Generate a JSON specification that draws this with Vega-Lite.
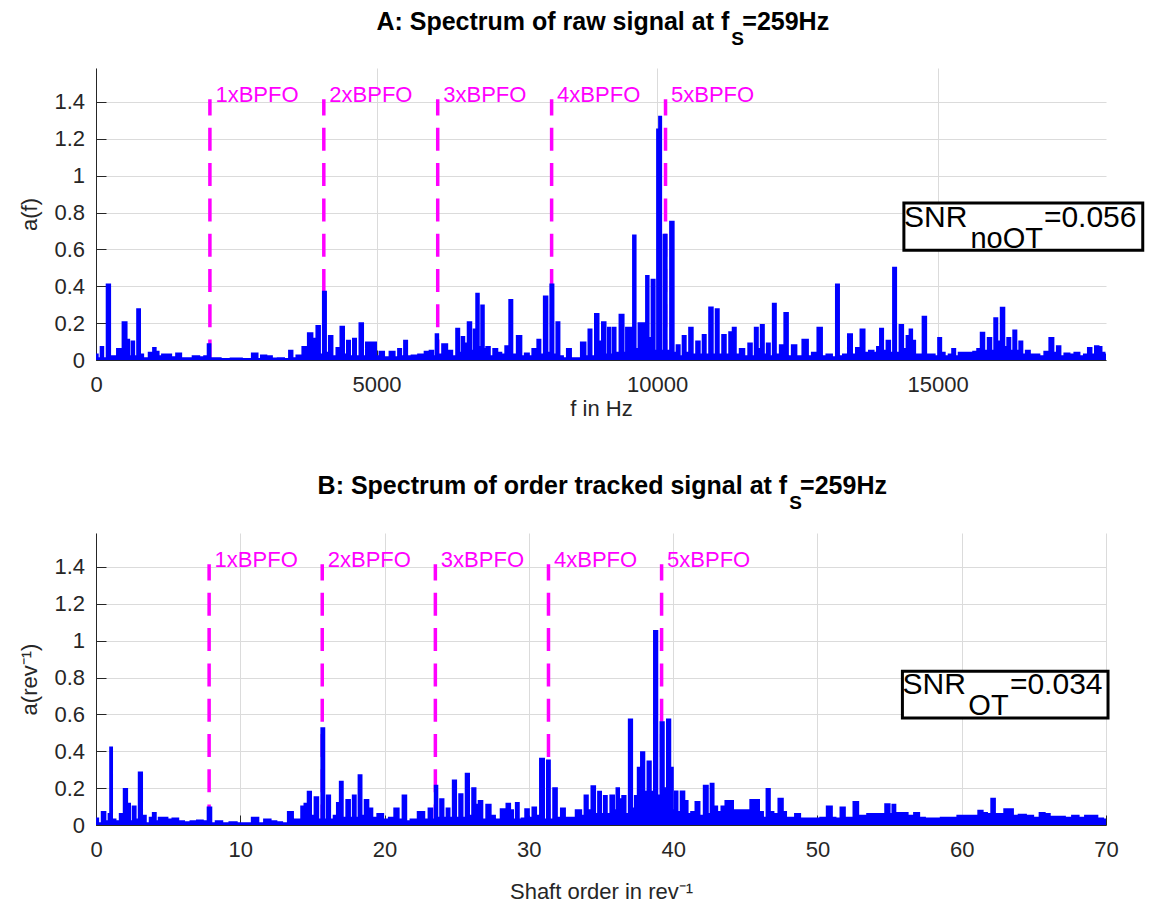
{
"$schema": "https://vega.github.io/schema/vega-lite/v6.json",
"background": "white",
"padding": {"left": 18, "top": 9, "right": 5, "bottom": 5},
"spacing": 173,
"bounds": "flush",
"config": {"view": {"stroke": null}, "font": "Liberation Sans"},
"datasets": {
"specA": [{"x":0,"y":0.03},{"x":60,"y":0.01},{"x":107,"y":0.07},{"x":150,"y":0.01},{"x":232,"y":0.41},{"x":270,"y":0.02},{"x":320,"y":0.02},{"x":430,"y":0.06},{"x":518,"y":0.205},{"x":571,"y":0.11},{"x":610,"y":0.02},{"x":660,"y":0.1},{"x":700,"y":0.02},{"x":768,"y":0.275},{"x":800,"y":0.03},{"x":880,"y":0.01},{"x":1000,"y":0.04},{"x":1036,"y":0.065},{"x":1090,"y":0.045},{"x":1140,"y":0.02},{"x":1215,"y":0.03},{"x":1285,"y":0.03},{"x":1393,"y":0.015},{"x":1464,"y":0.035},{"x":1571,"y":0.01},{"x":1660,"y":0.01},{"x":1786,"y":0.02},{"x":1893,"y":0.015},{"x":1964,"y":0.02},{"x":2018,"y":0.085},{"x":2060,"y":0.01},{"x":2143,"y":0.01},{"x":2300,"y":0.005},{"x":2500,"y":0.008},{"x":2700,"y":0.005},{"x":2857,"y":0.035},{"x":2900,"y":0.005},{"x":2982,"y":0.025},{"x":3089,"y":0.02},{"x":3180,"y":0.008},{"x":3300,"y":0.01},{"x":3400,"y":0.005},{"x":3482,"y":0.05},{"x":3520,"y":0.01},{"x":3625,"y":0.025},{"x":3732,"y":0.07},{"x":3821,"y":0.145},{"x":3893,"y":0.115},{"x":3964,"y":0.185},{"x":4018,"y":0.03},{"x":4071,"y":0.37},{"x":4125,"y":0.04},{"x":4178,"y":0.13},{"x":4250,"y":0.02},{"x":4321,"y":0.065},{"x":4393,"y":0.18},{"x":4446,"y":0.03},{"x":4500,"y":0.105},{"x":4553,"y":0.02},{"x":4607,"y":0.115},{"x":4660,"y":0.02},{"x":4732,"y":0.2},{"x":4786,"y":0.02},{"x":4839,"y":0.095},{"x":4964,"y":0.095},{"x":5018,"y":0.02},{"x":5089,"y":0.045},{"x":5178,"y":0.015},{"x":5286,"y":0.045},{"x":5357,"y":0.015},{"x":5411,"y":0.06},{"x":5464,"y":0.02},{"x":5518,"y":0.105},{"x":5571,"y":0.02},{"x":5679,"y":0.025},{"x":5804,"y":0.03},{"x":5911,"y":0.045},{"x":5982,"y":0.05},{"x":6036,"y":0.02},{"x":6071,"y":0.14},{"x":6125,"y":0.03},{"x":6214,"y":0.085},{"x":6304,"y":0.05},{"x":6393,"y":0.02},{"x":6446,"y":0.17},{"x":6500,"y":0.04},{"x":6536,"y":0.125},{"x":6589,"y":0.09},{"x":6661,"y":0.205},{"x":6714,"y":0.05},{"x":6750,"y":0.165},{"x":6804,"y":0.36},{"x":6839,"y":0.07},{"x":6893,"y":0.295},{"x":6929,"y":0.06},{"x":6982,"y":0.07},{"x":7054,"y":0.02},{"x":7107,"y":0.06},{"x":7196,"y":0.04},{"x":7250,"y":0.03},{"x":7339,"y":0.075},{"x":7393,"y":0.325},{"x":7446,"y":0.03},{"x":7554,"y":0.13},{"x":7607,"y":0.02},{"x":7679,"y":0.035},{"x":7750,"y":0.02},{"x":7804,"y":0.06},{"x":7839,"y":0.06},{"x":7893,"y":0.11},{"x":7946,"y":0.03},{"x":8018,"y":0.345},{"x":8071,"y":0.04},{"x":8125,"y":0.41},{"x":8179,"y":0.03},{"x":8232,"y":0.205},{"x":8286,"y":0.02},{"x":8357,"y":0.01},{"x":8429,"y":0.06},{"x":8500,"y":0.01},{"x":8589,"y":0.01},{"x":8696,"y":0.095},{"x":8750,"y":0.02},{"x":8804,"y":0.165},{"x":8857,"y":0.02},{"x":8929,"y":0.25},{"x":8982,"y":0.1},{"x":9054,"y":0.205},{"x":9107,"y":0.03},{"x":9143,"y":0.175},{"x":9196,"y":0.03},{"x":9232,"y":0.175},{"x":9286,"y":0.04},{"x":9375,"y":0.245},{"x":9429,"y":0.04},{"x":9464,"y":0.175},{"x":9500,"y":0.06},{"x":9518,"y":0.175},{"x":9554,"y":0.05},{"x":9589,"y":0.675},{"x":9643,"y":0.06},{"x":9696,"y":0.2},{"x":9750,"y":0.2},{"x":9786,"y":0.05},{"x":9821,"y":0.455},{"x":9875,"y":0.12},{"x":9929,"y":0.435},{"x":9982,"y":0.05},{"x":10018,"y":1.25},{"x":10054,"y":1.32},{"x":10089,"y":0.05},{"x":10143,"y":0.68},{"x":10196,"y":0.05},{"x":10268,"y":0.75},{"x":10321,"y":0.04},{"x":10375,"y":0.08},{"x":10429,"y":0.02},{"x":10482,"y":0.13},{"x":10536,"y":0.04},{"x":10607,"y":0.175},{"x":10661,"y":0.03},{"x":10732,"y":0.1},{"x":10786,"y":0.03},{"x":10839,"y":0.135},{"x":10893,"y":0.03},{"x":10964,"y":0.285},{"x":11018,"y":0.03},{"x":11071,"y":0.275},{"x":11125,"y":0.03},{"x":11196,"y":0.135},{"x":11250,"y":0.03},{"x":11321,"y":0.15},{"x":11375,"y":0.175},{"x":11429,"y":0.03},{"x":11518,"y":0.06},{"x":11589,"y":0.02},{"x":11661,"y":0.09},{"x":11714,"y":0.02},{"x":11768,"y":0.175},{"x":11821,"y":0.06},{"x":11875,"y":0.19},{"x":11929,"y":0.03},{"x":11982,"y":0.09},{"x":12036,"y":0.02},{"x":12089,"y":0.305},{"x":12143,"y":0.03},{"x":12232,"y":0.08},{"x":12304,"y":0.255},{"x":12357,"y":0.02},{"x":12446,"y":0.08},{"x":12518,"y":0.02},{"x":12661,"y":0.11},{"x":12714,"y":0.02},{"x":12804,"y":0.04},{"x":12911,"y":0.175},{"x":12964,"y":0.02},{"x":13071,"y":0.03},{"x":13161,"y":0.015},{"x":13214,"y":0.41},{"x":13268,"y":0.02},{"x":13357,"y":0.03},{"x":13446,"y":0.14},{"x":13500,"y":0.03},{"x":13589,"y":0.065},{"x":13661,"y":0.165},{"x":13732,"y":0.04},{"x":13821,"y":0.05},{"x":13893,"y":0.04},{"x":13946,"y":0.07},{"x":14000,"y":0.17},{"x":14054,"y":0.05},{"x":14125,"y":0.105},{"x":14179,"y":0.04},{"x":14232,"y":0.5},{"x":14286,"y":0.04},{"x":14357,"y":0.19},{"x":14411,"y":0.06},{"x":14482,"y":0.13},{"x":14518,"y":0.165},{"x":14571,"y":0.105},{"x":14625,"y":0.03},{"x":14696,"y":0.03},{"x":14768,"y":0.235},{"x":14821,"y":0.03},{"x":14911,"y":0.03},{"x":14982,"y":0.02},{"x":15036,"y":0.12},{"x":15089,"y":0.04},{"x":15161,"y":0.02},{"x":15232,"y":0.03},{"x":15286,"y":0.06},{"x":15339,"y":0.02},{"x":15411,"y":0.04},{"x":15500,"y":0.04},{"x":15589,"y":0.04},{"x":15679,"y":0.045},{"x":15732,"y":0.06},{"x":15804,"y":0.148},{"x":15857,"y":0.05},{"x":15929,"y":0.12},{"x":15982,"y":0.05},{"x":16036,"y":0.227},{"x":16089,"y":0.1},{"x":16161,"y":0.284},{"x":16214,"y":0.07},{"x":16268,"y":0.12},{"x":16321,"y":0.05},{"x":16375,"y":0.16},{"x":16429,"y":0.05},{"x":16482,"y":0.1},{"x":16536,"y":0.03},{"x":16607,"y":0.05},{"x":16679,"y":0.03},{"x":16768,"y":0.03},{"x":16857,"y":0.02},{"x":16946,"y":0.045},{"x":17036,"y":0.12},{"x":17089,"y":0.04},{"x":17161,"y":0.075},{"x":17214,"y":0.02},{"x":17304,"y":0.035},{"x":17393,"y":0.03},{"x":17482,"y":0.04},{"x":17571,"y":0.02},{"x":17643,"y":0.03},{"x":17714,"y":0.065},{"x":17768,"y":0.03},{"x":17839,"y":0.075},{"x":17893,"y":0.07},{"x":17946,"y":0.04},{"x":18000,"y":0.03}],
"specB": [{"x":0,"y":0.035},{"x":0.3,"y":0.01},{"x":0.5,"y":0.07},{"x":0.8,"y":0.02},{"x":0.95,"y":0.06},{"x":1.02,"y":0.42},{"x":1.2,"y":0.03},{"x":1.5,"y":0.02},{"x":1.8,"y":0.06},{"x":2.05,"y":0.195},{"x":2.26,"y":0.115},{"x":2.45,"y":0.02},{"x":2.64,"y":0.1},{"x":2.85,"y":0.03},{"x":3.08,"y":0.285},{"x":3.3,"y":0.05},{"x":3.6,"y":0.01},{"x":3.85,"y":0.04},{"x":4.03,"y":0.065},{"x":4.25,"y":0.02},{"x":4.45,"y":0.04},{"x":4.8,"y":0.04},{"x":5.1,"y":0.03},{"x":5.5,"y":0.035},{"x":5.9,"y":0.02},{"x":6.3,"y":0.015},{"x":6.8,"y":0.02},{"x":7.2,"y":0.025},{"x":7.6,"y":0.02},{"x":7.88,"y":0.095},{"x":8.1,"y":0.01},{"x":8.5,"y":0.02},{"x":9,"y":0.01},{"x":9.5,"y":0.015},{"x":10,"y":0.01},{"x":10.5,"y":0.01},{"x":11.1,"y":0.04},{"x":11.4,"y":0.01},{"x":11.9,"y":0.03},{"x":12.3,"y":0.02},{"x":12.7,"y":0.015},{"x":13.1,"y":0.01},{"x":13.5,"y":0.07},{"x":13.8,"y":0.03},{"x":14.1,"y":0.03},{"x":14.35,"y":0.1},{"x":14.55,"y":0.115},{"x":14.8,"y":0.18},{"x":15,"y":0.05},{"x":15.3,"y":0.15},{"x":15.5,"y":0.03},{"x":15.74,"y":0.525},{"x":15.9,"y":0.03},{"x":16.1,"y":0.16},{"x":16.35,"y":0.03},{"x":16.6,"y":0.05},{"x":16.8,"y":0.12},{"x":17,"y":0.235},{"x":17.2,"y":0.04},{"x":17.5,"y":0.135},{"x":17.7,"y":0.04},{"x":17.9,"y":0.16},{"x":18.1,"y":0.04},{"x":18.3,"y":0.27},{"x":18.5,"y":0.05},{"x":18.75,"y":0.135},{"x":19,"y":0.09},{"x":19.3,"y":0.04},{"x":19.7,"y":0.06},{"x":20.1,"y":0.03},{"x":20.5,"y":0.04},{"x":20.85,"y":0.09},{"x":21.1,"y":0.03},{"x":21.4,"y":0.16},{"x":21.6,"y":0.02},{"x":22,"y":0.03},{"x":22.6,"y":0.07},{"x":22.9,"y":0.03},{"x":23.2,"y":0.09},{"x":23.4,"y":0.03},{"x":23.56,"y":0.213},{"x":23.75,"y":0.04},{"x":23.96,"y":0.14},{"x":24.2,"y":0.04},{"x":24.4,"y":0.09},{"x":24.6,"y":0.04},{"x":24.86,"y":0.242},{"x":25.05,"y":0.04},{"x":25.3,"y":0.167},{"x":25.5,"y":0.04},{"x":25.75,"y":0.278},{"x":25.95,"y":0.05},{"x":26.2,"y":0.2},{"x":26.4,"y":0.11},{"x":26.65,"y":0.13},{"x":26.9,"y":0.03},{"x":27.2,"y":0.11},{"x":27.5,"y":0.05},{"x":27.8,"y":0.03},{"x":28.3,"y":0.085},{"x":28.6,"y":0.115},{"x":28.8,"y":0.08},{"x":29,"y":0.03},{"x":29.2,"y":0.12},{"x":29.4,"y":0.03},{"x":29.6,"y":0.035},{"x":29.9,"y":0.085},{"x":30.1,"y":0.04},{"x":30.4,"y":0.095},{"x":30.6,"y":0.05},{"x":30.95,"y":0.36},{"x":31.15,"y":0.03},{"x":31.36,"y":0.35},{"x":31.55,"y":0.03},{"x":31.83,"y":0.2},{"x":32.05,"y":0.04},{"x":32.4,"y":0.09},{"x":32.6,"y":0.04},{"x":33,"y":0.04},{"x":33.5,"y":0.08},{"x":33.75,"y":0.05},{"x":33.97,"y":0.16},{"x":34.2,"y":0.08},{"x":34.48,"y":0.21},{"x":34.7,"y":0.06},{"x":34.9,"y":0.18},{"x":35.1,"y":0.06},{"x":35.3,"y":0.157},{"x":35.5,"y":0.06},{"x":35.8,"y":0.16},{"x":36,"y":0.08},{"x":36.15,"y":0.2},{"x":36.35,"y":0.14},{"x":36.6,"y":0.157},{"x":36.8,"y":0.06},{"x":37.06,"y":0.572},{"x":37.25,"y":0.09},{"x":37.45,"y":0.157},{"x":37.65,"y":0.31},{"x":37.9,"y":0.394},{"x":38.1,"y":0.18},{"x":38.35,"y":0.345},{"x":38.55,"y":0.18},{"x":38.8,"y":1.052},{"x":39,"y":0.16},{"x":39.25,"y":0.557},{"x":39.45,"y":0.2},{"x":39.7,"y":0.572},{"x":39.9,"y":0.31},{"x":40.05,"y":0.08},{"x":40.2,"y":0.182},{"x":40.4,"y":0.07},{"x":40.65,"y":0.182},{"x":40.9,"y":0.13},{"x":41.1,"y":0.06},{"x":41.4,"y":0.07},{"x":41.7,"y":0.125},{"x":41.95,"y":0.05},{"x":42.3,"y":0.213},{"x":42.5,"y":0.06},{"x":42.7,"y":0.224},{"x":42.9,"y":0.1},{"x":43.2,"y":0.07},{"x":43.5,"y":0.1},{"x":43.75,"y":0.13},{"x":44,"y":0.13},{"x":44.3,"y":0.08},{"x":44.8,"y":0.08},{"x":45.2,"y":0.08},{"x":45.5,"y":0.135},{"x":45.8,"y":0.135},{"x":46.1,"y":0.07},{"x":46.35,"y":0.04},{"x":46.6,"y":0.195},{"x":46.8,"y":0.07},{"x":47.1,"y":0.06},{"x":47.5,"y":0.142},{"x":47.7,"y":0.07},{"x":47.95,"y":0.04},{"x":48.3,"y":0.04},{"x":48.6,"y":0.06},{"x":49,"y":0.035},{"x":49.5,"y":0.035},{"x":50,"y":0.035},{"x":50.4,"y":0.04},{"x":50.9,"y":0.1},{"x":51.1,"y":0.04},{"x":51.4,"y":0.035},{"x":51.8,"y":0.095},{"x":52,"y":0.04},{"x":52.3,"y":0.04},{"x":52.7,"y":0.125},{"x":52.95,"y":0.05},{"x":53.3,"y":0.05},{"x":53.6,"y":0.06},{"x":54,"y":0.06},{"x":54.5,"y":0.06},{"x":54.9,"y":0.113},{"x":55.1,"y":0.06},{"x":55.3,"y":0.11},{"x":55.5,"y":0.065},{"x":56,"y":0.065},{"x":56.5,"y":0.05},{"x":56.9,"y":0.065},{"x":57.2,"y":0.04},{"x":57.7,"y":0.035},{"x":58.3,"y":0.035},{"x":58.8,"y":0.04},{"x":59.4,"y":0.04},{"x":60,"y":0.05},{"x":60.6,"y":0.05},{"x":61,"y":0.05},{"x":61.3,"y":0.077},{"x":61.6,"y":0.065},{"x":61.9,"y":0.06},{"x":62.2,"y":0.142},{"x":62.4,"y":0.06},{"x":62.8,"y":0.06},{"x":63.1,"y":0.085},{"x":63.4,"y":0.085},{"x":63.7,"y":0.05},{"x":64.2,"y":0.055},{"x":64.7,"y":0.05},{"x":65.2,"y":0.04},{"x":65.6,"y":0.065},{"x":65.9,"y":0.06},{"x":66.3,"y":0.045},{"x":66.9,"y":0.045},{"x":67.4,"y":0.04},{"x":67.9,"y":0.05},{"x":68.3,"y":0.04},{"x":68.8,"y":0.05},{"x":69.2,"y":0.05},{"x":69.6,"y":0.035},{"x":70,"y":0.03}]
},
"vconcat": [
{
"width": 1010, "height": 292,
"encoding": {
"x": {"field": "x", "type": "quantitative", "scale": {"domain": [0, 18000], "nice": false, "zero": false},
 "axis": {"title": "f in Hz", "values": [0, 5000, 10000, 15000], "format": "d", "grid": true, "gridColor": "#dbdbdb", "gridWidth": 1, "domainColor": "#262626", "domainWidth": 1, "tickColor": "#262626", "tickWidth": 1, "tickSize": -10, "labelPadding": 24, "labelFontSize": 22, "labelColor": "#262626", "labelFlush": false, "labelOverlap": false, "titleFontSize": 22, "titleColor": "#262626", "titleFontWeight": "normal", "titlePadding": 3}},
"y": {"field": "y", "type": "quantitative", "scale": {"domain": [0, 1.584], "nice": false, "zero": false},
 "axis": {"title": "a(f)", "values": [0, 0.2, 0.4, 0.6, 0.8, 1, 1.2, 1.4], "format": "~g", "grid": true, "gridColor": "#dbdbdb", "gridWidth": 1, "domainColor": "#262626", "domainWidth": 1, "tickColor": "#262626", "tickWidth": 1, "tickSize": -10, "labelPadding": 21.5, "labelFontSize": 22, "labelColor": "#262626", "labelFlush": false, "labelOverlap": false, "titleFontSize": 22, "titleColor": "#262626", "titleFontWeight": "normal", "titlePadding": 12}}
},
"layer": [
{"data": {"values": [{"x": 2030, "y": 0, "y2": 1.414}, {"x": 4060, "y": 0, "y2": 1.414}, {"x": 6090, "y": 0, "y2": 1.414}, {"x": 8120, "y": 0, "y2": 1.414}, {"x": 10150, "y": 0, "y2": 1.414}]},
 "mark": {"type": "rule", "color": "#ff00ff", "strokeWidth": 3.5, "strokeDash": [23, 12.3], "strokeDashOffset": 2.6},
 "encoding": {"y2": {"field": "y2"}}},
{"data": {"name": "specA"},
 "mark": {"type": "area", "color": "#0000ff", "interpolate": "step", "opacity": 1},
 "encoding": {}},
{"data": {"name": "specA"},
 "mark": {"type": "line", "color": "#0000ff", "strokeWidth": 2, "interpolate": "step", "strokeJoin": "miter"},
 "encoding": {}},
{"data": {"values": [{"x": 2030, "y": 1.40, "t": "1xBPFO"}, {"x": 4060, "y": 1.40, "t": "2xBPFO"}, {"x": 6090, "y": 1.40, "t": "3xBPFO"}, {"x": 8120, "y": 1.40, "t": "4xBPFO"}, {"x": 10150, "y": 1.40, "t": "5xBPFO"}]},
 "mark": {"type": "text", "color": "#ff00ff", "fontSize": 22, "align": "left", "baseline": "alphabetic", "dx": 5.5},
 "encoding": {"text": {"field": "t"}}},
{"data": {"values": [{"x": 14398, "x2": 18655, "y": 0.595, "y2": 0.852}]},
 "mark": {"type": "rect", "fill": "white", "stroke": "black", "strokeWidth": 3},
 "encoding": {"x2": {"field": "x2"}, "y2": {"field": "y2"}}},
{"data": {"values": [{"x": 14402, "y": 0.722, "t": "SNR"}, {"x": 16893, "y": 0.722, "t": "=0.056"}]},
 "mark": {"type": "text", "color": "black", "fontSize": 30, "align": "left", "baseline": "alphabetic"},
 "encoding": {"text": {"field": "t"}}},
{"data": {"values": [{"x": 15584, "y": 0.606, "t": "noOT"}]},
 "mark": {"type": "text", "color": "black", "fontSize": 29, "align": "left", "baseline": "alphabetic"},
 "encoding": {"text": {"field": "t"}}},
{"data": {"values": [{"x": 11286, "y": 1.791, "t": "A: Spectrum of raw signal at f"}]},
 "mark": {"type": "text", "color": "black", "fontSize": 25, "fontWeight": "bold", "align": "right", "baseline": "alphabetic"},
 "encoding": {"text": {"field": "t"}}},
{"data": {"values": [{"x": 11321, "y": 1.709, "t": "S"}]},
 "mark": {"type": "text", "color": "black", "fontSize": 19, "fontWeight": "bold", "align": "left", "baseline": "alphabetic"},
 "encoding": {"text": {"field": "t"}}},
{"data": {"values": [{"x": 11518, "y": 1.791, "t": "=259Hz"}]},
 "mark": {"type": "text", "color": "black", "fontSize": 25, "fontWeight": "bold", "align": "left", "baseline": "alphabetic"},
 "encoding": {"text": {"field": "t"}}}
]
},
{
"width": 1010, "height": 292,
"encoding": {
"x": {"field": "x", "type": "quantitative", "scale": {"domain": [0, 70], "nice": false, "zero": false},
 "axis": {"title": "Shaft order in rev⁻¹", "values": [0, 10, 20, 30, 40, 50, 60, 70], "format": "d", "grid": true, "gridColor": "#dbdbdb", "gridWidth": 1, "domainColor": "#262626", "domainWidth": 1, "tickColor": "#262626", "tickWidth": 1, "tickSize": -10, "labelPadding": 24, "labelFontSize": 22, "labelColor": "#262626", "labelFlush": false, "labelOverlap": false, "titleFontSize": 22, "titleColor": "#262626", "titleFontWeight": "normal", "titlePadding": 21}},
"y": {"field": "y", "type": "quantitative", "scale": {"domain": [0, 1.584], "nice": false, "zero": false},
 "axis": {"title": "a(rev⁻¹)", "values": [0, 0.2, 0.4, 0.6, 0.8, 1, 1.2, 1.4], "format": "~g", "grid": true, "gridColor": "#dbdbdb", "gridWidth": 1, "domainColor": "#262626", "domainWidth": 1, "tickColor": "#262626", "tickWidth": 1, "tickSize": -10, "labelPadding": 21.5, "labelFontSize": 22, "labelColor": "#262626", "labelFlush": false, "labelOverlap": false, "titleFontSize": 22, "titleColor": "#262626", "titleFontWeight": "normal", "titlePadding": 12}}
},
"layer": [
{"data": {"values": [{"x": 7.84, "y": 0, "y2": 1.414}, {"x": 15.68, "y": 0, "y2": 1.414}, {"x": 23.52, "y": 0, "y2": 1.414}, {"x": 31.36, "y": 0, "y2": 1.414}, {"x": 39.2, "y": 0, "y2": 1.414}]},
 "mark": {"type": "rule", "color": "#ff00ff", "strokeWidth": 3.5, "strokeDash": [23, 12.3], "strokeDashOffset": 2.6},
 "encoding": {"y2": {"field": "y2"}}},
{"data": {"name": "specB"},
 "mark": {"type": "area", "color": "#0000ff", "interpolate": "step", "opacity": 1},
 "encoding": {}},
{"data": {"name": "specB"},
 "mark": {"type": "line", "color": "#0000ff", "strokeWidth": 2, "interpolate": "step", "strokeJoin": "miter"},
 "encoding": {}},
{"data": {"values": [{"x": 7.84, "y": 1.40, "t": "1xBPFO"}, {"x": 15.68, "y": 1.40, "t": "2xBPFO"}, {"x": 23.52, "y": 1.40, "t": "3xBPFO"}, {"x": 31.36, "y": 1.40, "t": "4xBPFO"}, {"x": 39.2, "y": 1.40, "t": "5xBPFO"}]},
 "mark": {"type": "text", "color": "#ff00ff", "fontSize": 22, "align": "left", "baseline": "alphabetic", "dx": 5.5},
 "encoding": {"text": {"field": "t"}}},
{"data": {"values": [{"x": 55.89, "x2": 70.14, "y": 0.581, "y2": 0.834}]},
 "mark": {"type": "rect", "fill": "white", "stroke": "black", "strokeWidth": 3},
 "encoding": {"x2": {"field": "x2"}, "y2": {"field": "y2"}}},
{"data": {"values": [{"x": 55.9, "y": 0.708, "t": "SNR"}, {"x": 63.34, "y": 0.708, "t": "=0.034"}]},
 "mark": {"type": "text", "color": "black", "fontSize": 30, "align": "left", "baseline": "alphabetic"},
 "encoding": {"text": {"field": "t"}}},
{"data": {"values": [{"x": 60.46, "y": 0.595, "t": "OT"}]},
 "mark": {"type": "text", "color": "black", "fontSize": 29, "align": "left", "baseline": "alphabetic"},
 "encoding": {"text": {"field": "t"}}},
{"data": {"values": [{"x": 47.9, "y": 1.795, "t": "B: Spectrum of order tracked signal at f"}]},
 "mark": {"type": "text", "color": "black", "fontSize": 25, "fontWeight": "bold", "align": "right", "baseline": "alphabetic"},
 "encoding": {"text": {"field": "t"}}},
{"data": {"values": [{"x": 48.04, "y": 1.713, "t": "S"}]},
 "mark": {"type": "text", "color": "black", "fontSize": 19, "fontWeight": "bold", "align": "left", "baseline": "alphabetic"},
 "encoding": {"text": {"field": "t"}}},
{"data": {"values": [{"x": 48.8, "y": 1.795, "t": "=259Hz"}]},
 "mark": {"type": "text", "color": "black", "fontSize": 25, "fontWeight": "bold", "align": "left", "baseline": "alphabetic"},
 "encoding": {"text": {"field": "t"}}}
]
}
]
}
